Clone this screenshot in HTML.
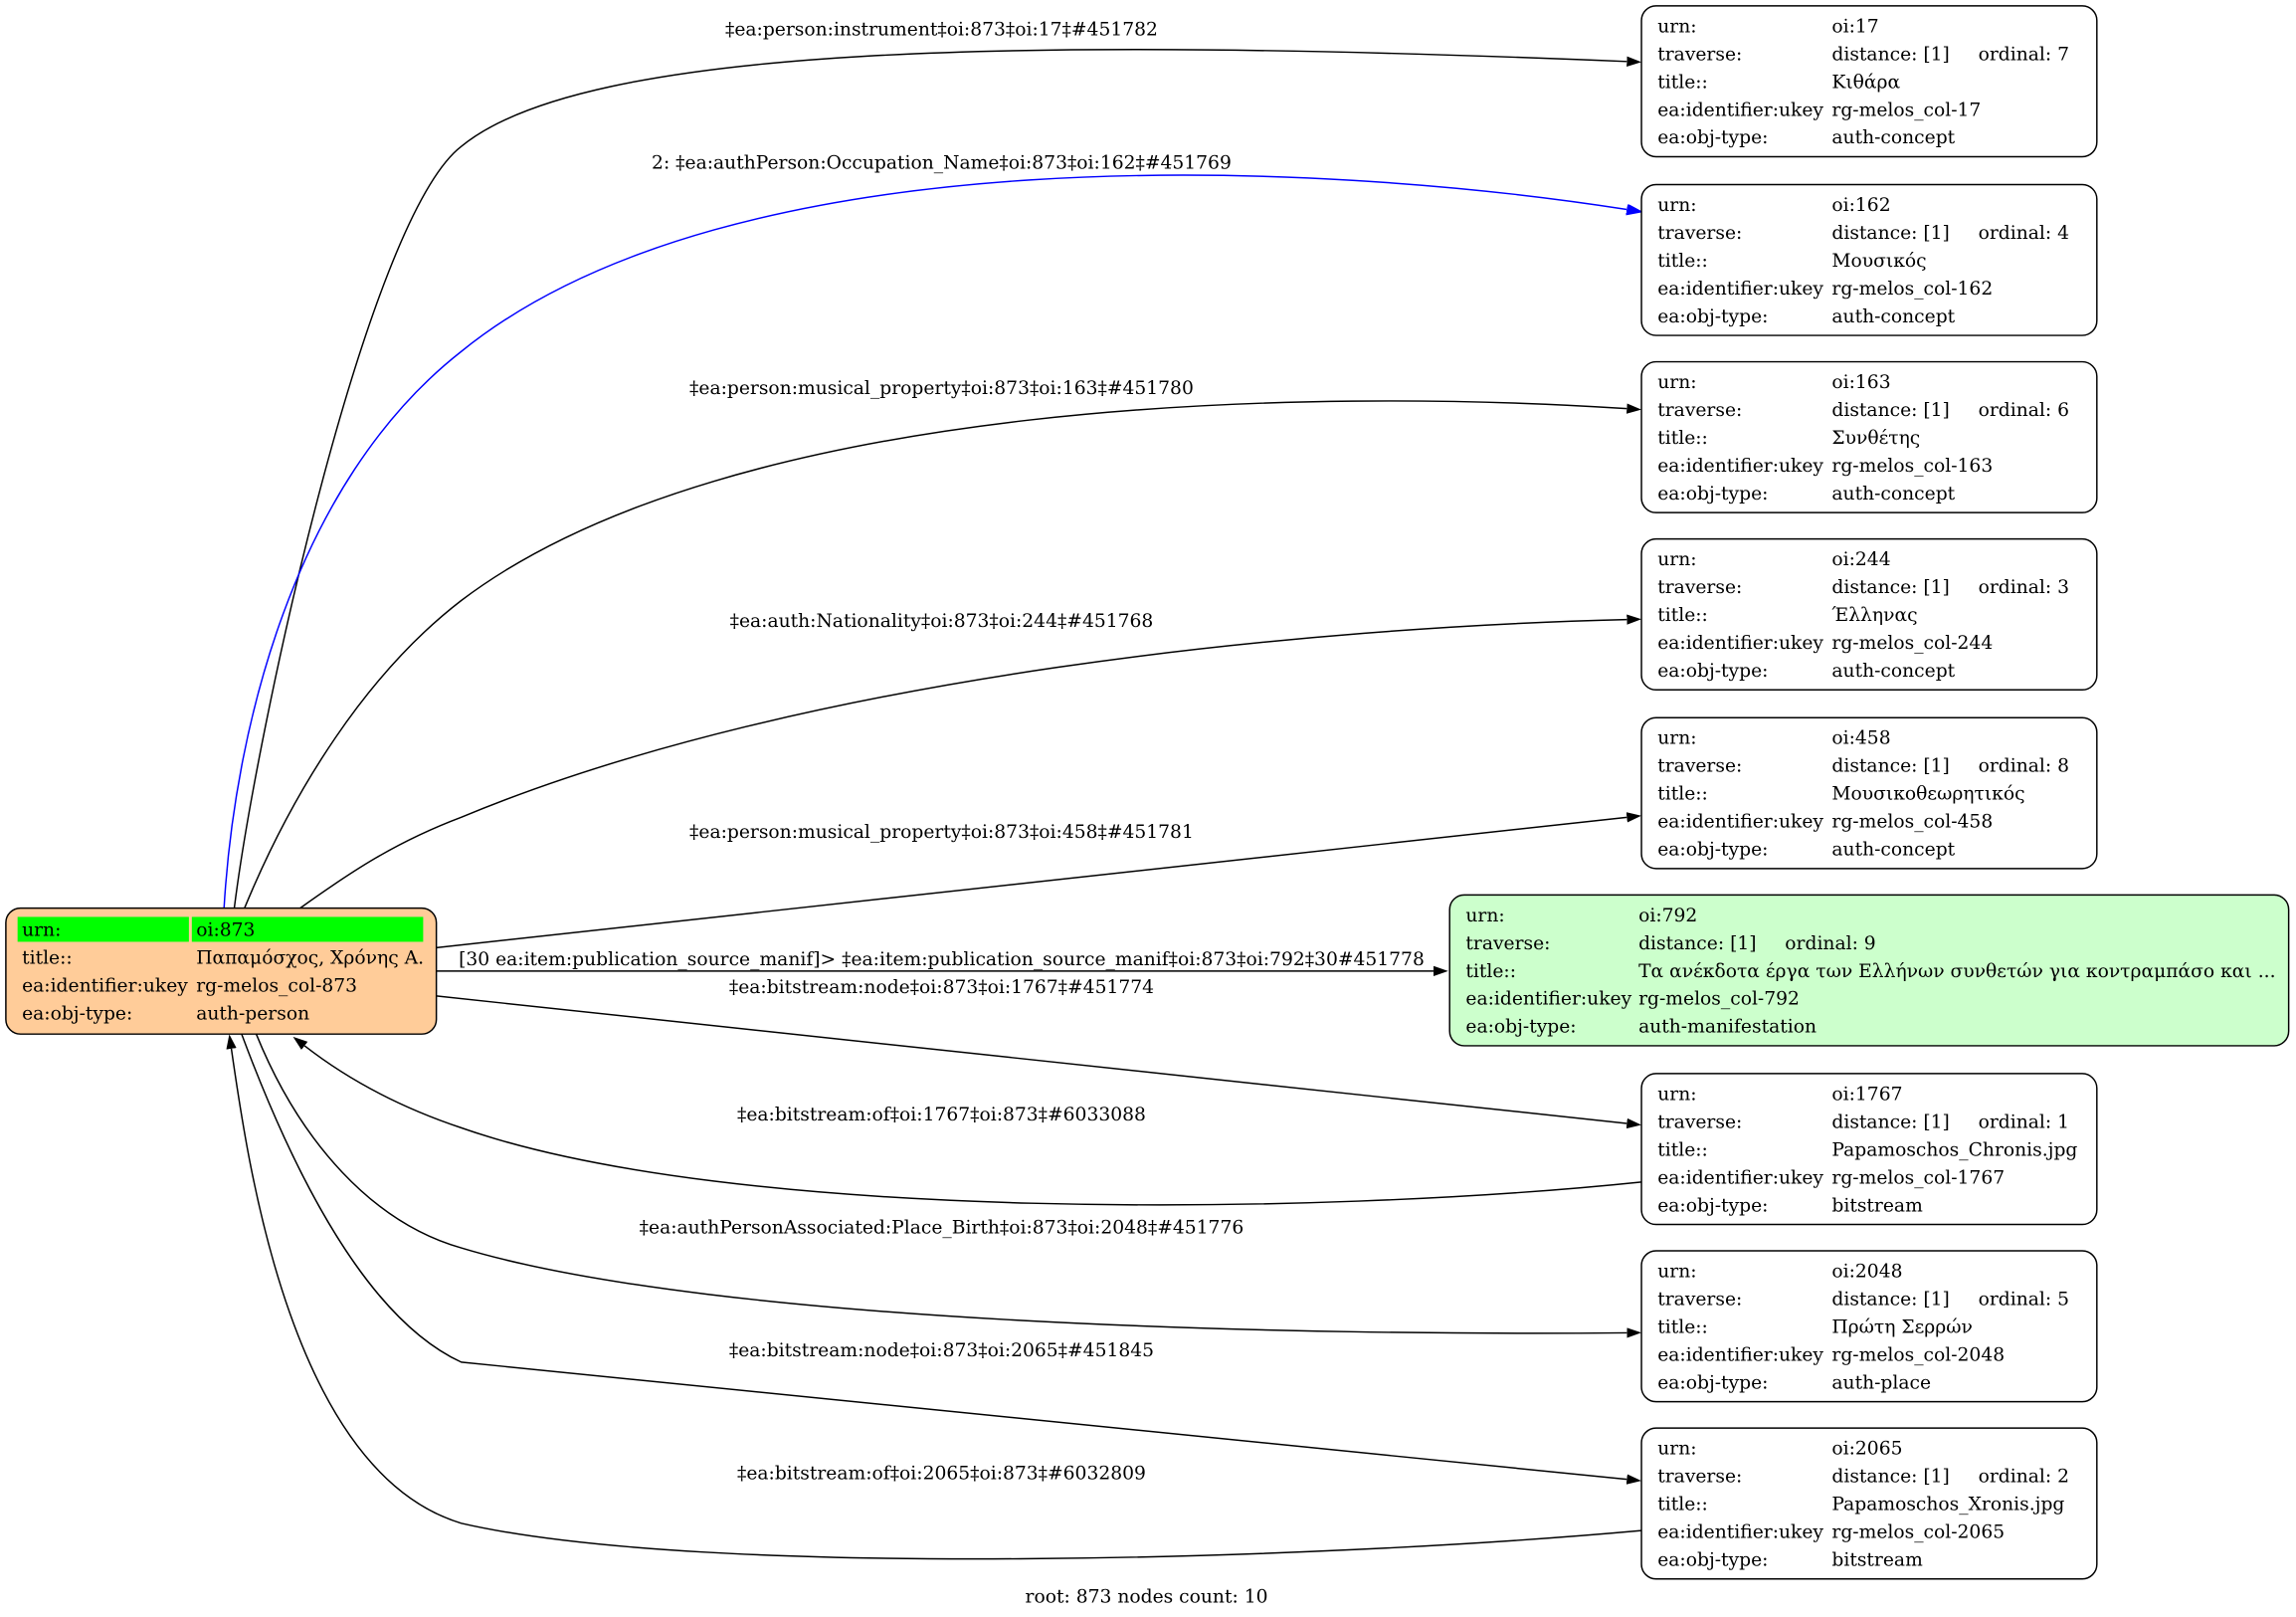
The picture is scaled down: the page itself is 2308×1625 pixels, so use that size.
<!DOCTYPE html>
<html><head><meta charset="utf-8"><style>html,body{margin:0;padding:0;background:#fff}svg{display:block}text{font-family:"DejaVu Serif","Liberation Serif",serif;font-size:12.7px;fill:#000}</style></head><body>
<svg width="2308" height="1625" viewBox="0 0 1568 1104" preserveAspectRatio="none" xmlns="http://www.w3.org/2000/svg">
<defs>
<marker id="a" markerUnits="userSpaceOnUse" markerWidth="11" markerHeight="8" refX="0" refY="3.5" orient="auto"><path d="M0,0 L10,3.5 L0,7 z" fill="#000"/></marker>
<marker id="b" markerUnits="userSpaceOnUse" markerWidth="11" markerHeight="8" refX="0" refY="3.5" orient="auto"><path d="M0,0 L10,3.5 L0,7 z" fill="#00f" stroke="#00f"/></marker>
</defs>
<g fill="none" stroke="#000" stroke-width="1">
<path d="M160,620 C175,500 250,150 315,100 C400,30 700,25 1111,42" marker-end="url(#a)"/>
<path d="M153,620 C160,500 200,330 315,240 C500,90 900,110 1111,143" stroke="#00f" marker-end="url(#b)"/>
<path d="M167,620 C200,540 250,460 315,410 C500,270 900,265 1111,279" marker-end="url(#a)"/>
<path d="M205,620 C240,595 270,575 315,558 C550,460 900,428 1111,423" marker-end="url(#a)"/>
<path d="M298,647 L1111,558" marker-end="url(#a)"/>
<path d="M298,663 L979,663" marker-end="url(#a)"/>
<path d="M298,680 L1111,767" marker-end="url(#a)"/>
<path d="M1121,807 C900,830 500,835 315,770 C270,755 235,735 208,714" marker-end="url(#a)"/>
<path d="M175,706 C205,780 255,835 315,852 C490,905 900,912 1111,910" marker-end="url(#a)"/>
<path d="M165,706 C200,800 250,900 315,930 L1111,1010" marker-end="url(#a)"/>
<path d="M1121,1045 C900,1065 480,1078 315,1040 C200,1005 170,800 158,716" marker-end="url(#a)"/>
</g>
<g text-anchor="middle">
<text x="643" y="24">‡ea:person:instrument‡oi:873‡oi:17‡#451782</text>
<text x="643" y="115">2: ‡ea:authPerson:Occupation_Name‡oi:873‡oi:162‡#451769</text>
<text x="643" y="269">‡ea:person:musical_property‡oi:873‡oi:163‡#451780</text>
<text x="643" y="428">‡ea:auth:Nationality‡oi:873‡oi:244‡#451768</text>
<text x="643" y="572">‡ea:person:musical_property‡oi:873‡oi:458‡#451781</text>
<text x="643" y="659">[30 ea:item:publication_source_manif]&gt; ‡ea:item:publication_source_manif‡oi:873‡oi:792‡30#451778</text>
<text x="643" y="678">‡ea:bitstream:node‡oi:873‡oi:1767‡#451774</text>
<text x="643" y="765">‡ea:bitstream:of‡oi:1767‡oi:873‡#6033088</text>
<text x="643" y="842">‡ea:authPersonAssociated:Place_Birth‡oi:873‡oi:2048‡#451776</text>
<text x="643" y="926">‡ea:bitstream:node‡oi:873‡oi:2065‡#451845</text>
<text x="643" y="1010">‡ea:bitstream:of‡oi:2065‡oi:873‡#6032809</text>
<text x="783" y="1094">root: 873 nodes count: 10</text>
</g>
<rect x="4" y="620" width="294" height="86" rx="10" fill="#ffcc99" stroke="#000"/>
<rect x="12" y="626" width="117" height="17" fill="#00ff00"/>
<rect x="131" y="626" width="158" height="17" fill="#00ff00"/>
<text x="15" y="639">urn:</text><text x="134" y="639">oi:873</text>
<text x="15" y="658">title::</text><text x="134" y="658">Παπαμόσχος, Χρόνης Α.</text>
<text x="15" y="677">ea:identifier:ukey</text><text x="134" y="677">rg-melos_col-873</text>
<text x="15" y="696">ea:obj-type:</text><text x="134" y="696">auth-person</text>
<rect x="990" y="611" width="573" height="103" rx="10" fill="#ccffcc" stroke="#000"/>
<text x="1001" y="629">urn:</text><text x="1119" y="629">oi:792</text>
<text x="1001" y="648">traverse:</text><text x="1119" y="648">distance: [1]</text><text x="1219" y="648">ordinal: 9</text>
<text x="1001" y="667">title::</text><text x="1119" y="667">Τα ανέκδοτα έργα των Ελλήνων συνθετών για κοντραμπάσο και ...</text>
<text x="1001" y="686">ea:identifier:ukey</text><text x="1119" y="686">rg-melos_col-792</text>
<text x="1001" y="705">ea:obj-type:</text><text x="1119" y="705">auth-manifestation</text>
<g>
<rect x="1121" y="4" width="311" height="103" rx="10" fill="#fff" stroke="#000"/>
<text x="1132" y="22">urn:</text><text x="1251" y="22">oi:17</text>
<text x="1132" y="41">traverse:</text><text x="1251" y="41">distance: [1]</text><text x="1351" y="41">ordinal: 7</text>
<text x="1132" y="60">title::</text><text x="1251" y="60">Κιθάρα</text>
<text x="1132" y="79">ea:identifier:ukey</text><text x="1251" y="79">rg-melos_col-17</text>
<text x="1132" y="98">ea:obj-type:</text><text x="1251" y="98">auth-concept</text>
</g>
<g transform="translate(0,122)">
<rect x="1121" y="4" width="311" height="103" rx="10" fill="#fff" stroke="#000"/>
<text x="1132" y="22">urn:</text><text x="1251" y="22">oi:162</text>
<text x="1132" y="41">traverse:</text><text x="1251" y="41">distance: [1]</text><text x="1351" y="41">ordinal: 4</text>
<text x="1132" y="60">title::</text><text x="1251" y="60">Μουσικός</text>
<text x="1132" y="79">ea:identifier:ukey</text><text x="1251" y="79">rg-melos_col-162</text>
<text x="1132" y="98">ea:obj-type:</text><text x="1251" y="98">auth-concept</text>
</g>
<g transform="translate(0,243)">
<rect x="1121" y="4" width="311" height="103" rx="10" fill="#fff" stroke="#000"/>
<text x="1132" y="22">urn:</text><text x="1251" y="22">oi:163</text>
<text x="1132" y="41">traverse:</text><text x="1251" y="41">distance: [1]</text><text x="1351" y="41">ordinal: 6</text>
<text x="1132" y="60">title::</text><text x="1251" y="60">Συνθέτης</text>
<text x="1132" y="79">ea:identifier:ukey</text><text x="1251" y="79">rg-melos_col-163</text>
<text x="1132" y="98">ea:obj-type:</text><text x="1251" y="98">auth-concept</text>
</g>
<g transform="translate(0,364)">
<rect x="1121" y="4" width="311" height="103" rx="10" fill="#fff" stroke="#000"/>
<text x="1132" y="22">urn:</text><text x="1251" y="22">oi:244</text>
<text x="1132" y="41">traverse:</text><text x="1251" y="41">distance: [1]</text><text x="1351" y="41">ordinal: 3</text>
<text x="1132" y="60">title::</text><text x="1251" y="60">Έλληνας</text>
<text x="1132" y="79">ea:identifier:ukey</text><text x="1251" y="79">rg-melos_col-244</text>
<text x="1132" y="98">ea:obj-type:</text><text x="1251" y="98">auth-concept</text>
</g>
<g transform="translate(0,486)">
<rect x="1121" y="4" width="311" height="103" rx="10" fill="#fff" stroke="#000"/>
<text x="1132" y="22">urn:</text><text x="1251" y="22">oi:458</text>
<text x="1132" y="41">traverse:</text><text x="1251" y="41">distance: [1]</text><text x="1351" y="41">ordinal: 8</text>
<text x="1132" y="60">title::</text><text x="1251" y="60">Μουσικοθεωρητικός</text>
<text x="1132" y="79">ea:identifier:ukey</text><text x="1251" y="79">rg-melos_col-458</text>
<text x="1132" y="98">ea:obj-type:</text><text x="1251" y="98">auth-concept</text>
</g>
<g transform="translate(0,729)">
<rect x="1121" y="4" width="311" height="103" rx="10" fill="#fff" stroke="#000"/>
<text x="1132" y="22">urn:</text><text x="1251" y="22">oi:1767</text>
<text x="1132" y="41">traverse:</text><text x="1251" y="41">distance: [1]</text><text x="1351" y="41">ordinal: 1</text>
<text x="1132" y="60">title::</text><text x="1251" y="60">Papamoschos_Chronis.jpg</text>
<text x="1132" y="79">ea:identifier:ukey</text><text x="1251" y="79">rg-melos_col-1767</text>
<text x="1132" y="98">ea:obj-type:</text><text x="1251" y="98">bitstream</text>
</g>
<g transform="translate(0,850)">
<rect x="1121" y="4" width="311" height="103" rx="10" fill="#fff" stroke="#000"/>
<text x="1132" y="22">urn:</text><text x="1251" y="22">oi:2048</text>
<text x="1132" y="41">traverse:</text><text x="1251" y="41">distance: [1]</text><text x="1351" y="41">ordinal: 5</text>
<text x="1132" y="60">title::</text><text x="1251" y="60">Πρώτη Σερρών</text>
<text x="1132" y="79">ea:identifier:ukey</text><text x="1251" y="79">rg-melos_col-2048</text>
<text x="1132" y="98">ea:obj-type:</text><text x="1251" y="98">auth-place</text>
</g>
<g transform="translate(0,971)">
<rect x="1121" y="4" width="311" height="103" rx="10" fill="#fff" stroke="#000"/>
<text x="1132" y="22">urn:</text><text x="1251" y="22">oi:2065</text>
<text x="1132" y="41">traverse:</text><text x="1251" y="41">distance: [1]</text><text x="1351" y="41">ordinal: 2</text>
<text x="1132" y="60">title::</text><text x="1251" y="60">Papamoschos_Xronis.jpg</text>
<text x="1132" y="79">ea:identifier:ukey</text><text x="1251" y="79">rg-melos_col-2065</text>
<text x="1132" y="98">ea:obj-type:</text><text x="1251" y="98">bitstream</text>
</g>
</svg>
</body></html>
